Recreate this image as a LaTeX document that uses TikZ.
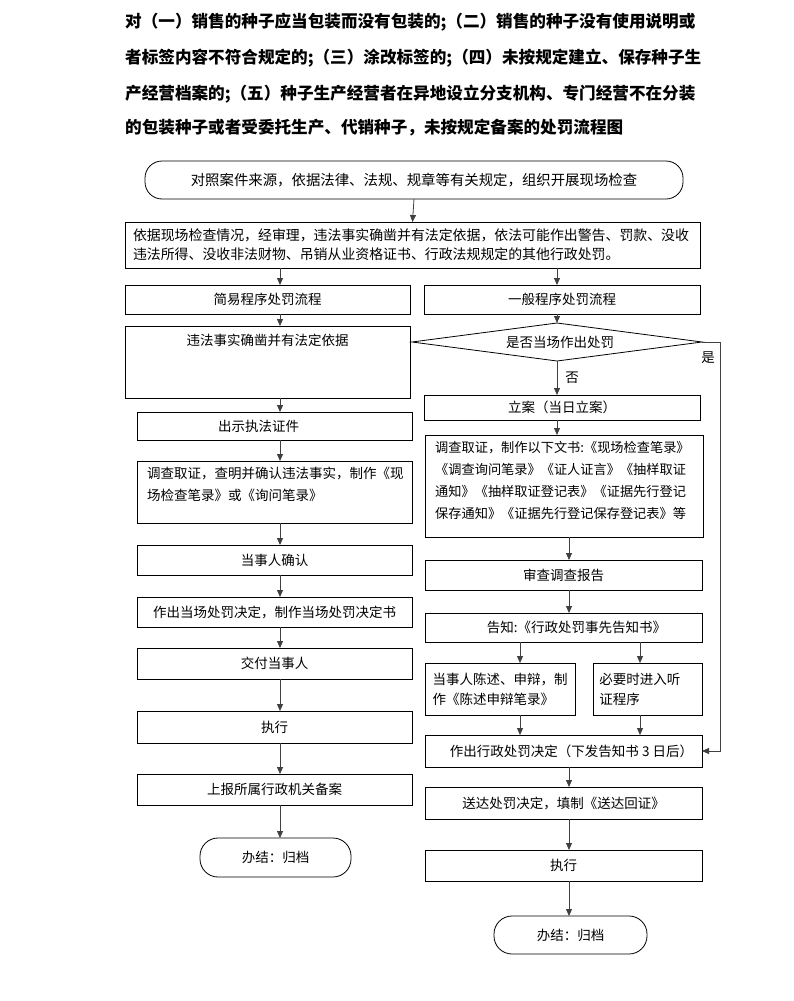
\documentclass[tikz,border=0pt]{standalone}
\usepackage{fontspec}
\setmainfont{Noto Sans CJK SC}
\usetikzlibrary{shapes.geometric,arrows.meta}
\newcommand\bxfont{\fontsize{13.5}{19}\selectfont}
\newcommand\smfont{\fontsize{13.2}{22}\selectfont}
\newcommand\ttlfont{\fontsize{16.6}{20}\selectfont\bfseries}
\begin{document}
\begin{tikzpicture}[x=1pt,y=-1pt,
  box/.style={draw=black, line width=0.8pt, inner sep=0pt, outer sep=0pt, font=\bxfont, align=center},
  rbox/.style={box, rounded corners=17pt},
  arr/.style={-{Triangle[length=7pt,width=6pt]}, line width=0.8pt, draw=black!75},
  ttl/.style={anchor=west, inner sep=0pt, font=\ttlfont},
  txt/.style={inner sep=0pt, font=\bxfont}
]
\useasboundingbox (0,0) rectangle (793,1001);
\fill[white] (0,0) rectangle (793,1001);

% title
\node[ttl] (t1) at (125,22) {对（一）销售的种子应当包装而没有包装的;（二）销售的种子没有使用说明或};
\node[ttl] (t2) at (125,58) {者标签内容不符合规定的;（三）涂改标签的;（四）未按规定建立、保存种子生};
\node[ttl] (t3) at (125,94) {产经营档案的;（五）种子生产经营者在异地设立分支机构、专门经营不在分装};
\node[ttl] (t4) at (125,128) {的包装种子或者受委托生产、代销种子，未按规定备案的处罚流程图};

% column coordinates
\coordinate (L) at (280,0);
\coordinate (R) at (557,0);
\coordinate (R2) at (569,0);
\coordinate (SL) at (520,0);
\coordinate (SR) at (640,0);

% top
\node[rbox, minimum width=538pt, minimum height=38pt, font=\fontsize{14.4}{18}\selectfont] (top) at (414,180) {对照案件来源，依据法律、法规、规章等有关规定，组织开展现场检查};
\node[box, minimum width=575pt, minimum height=46pt, align=left, text width=559pt, font=\fontsize{13.9}{19}\selectfont] (b2) at (412.5,245) {依据现场检查情况，经审理，违法事实确凿并有法定依据，依法可能作出警告、罚款、没收\\违法所得、没收非法财物、吊销从业资格证书、行政法规规定的其他行政处罚。};

% left column
\node[box, minimum width=285pt, minimum height=29pt] (simple) at (267.5,299.5) {简易程序处罚流程};
\node[box, minimum width=285pt, minimum height=72pt,
  label={[txt, anchor=north, yshift=-8pt]north:违法事实确凿并有法定依据}] (fact) at (267.5,362) {};
\node[box, minimum width=275pt, minimum height=28pt] (show) at (274.5,426) {\hspace*{-32pt}出示执法证件};
\node[box, minimum width=275pt, minimum height=62pt,
  label={[txt, anchor=north west, xshift=10pt, yshift=-6pt, align=left, font=\fontsize{13.5}{22}\selectfont]north west:调查取证，查明并确认违法事实，制作《现\\场检查笔录》或《询问笔录》}] (inv1) at (274.5,492) {};
\node[box, minimum width=275pt, minimum height=30pt] (confirm) at (274.5,560) {当事人确认};
\node[box, minimum width=275pt, minimum height=30pt] (decide1) at (274.5,612) {作出当场处罚决定，制作当场处罚决定书};
\node[box, minimum width=275pt, minimum height=31pt] (deliver1) at (274.5,663.5) {交付当事人};
\node[box, minimum width=275pt, minimum height=32pt] (exec1) at (274.5,727) {执行};
\node[box, minimum width=275pt, minimum height=31pt] (report) at (274.5,789.5) {上报所属行政机关备案};
\node[rbox, minimum width=151pt, minimum height=39pt, rounded corners=18pt] (end1) at (275.5,857.5) {办结：归档};

% right column
\node[box, minimum width=276pt, minimum height=29pt] (general) at (562,299.5) {一般程序处罚流程};
\node[diamond, draw=black, line width=0.8pt, aspect=7.6, inner sep=0pt, outer sep=0pt,
  minimum width=290pt, minimum height=38pt, font=\bxfont] (dia) at (557,342) {\hspace*{6pt}是否当场作出处罚};
\node[box, minimum width=276pt, minimum height=25pt] (lian) at (562,407.5) {立案（当日立案）};
\node[box, minimum width=278pt, minimum height=102pt,
  label={[txt, anchor=north west, xshift=10pt, yshift=-6pt, align=left, font=\smfont]north west:调查取证，制作以下文书:《现场检查笔录》\\《调查询问笔录》《证人证言》《抽样取证\\通知》《抽样取证登记表》《证据先行登记\\保存通知》《证据先行登记保存登记表》等}] (inv2) at (564,486) {};
\node[box, minimum width=277pt, minimum height=30pt] (review) at (563.5,575) {审查调查报告};
\node[box, minimum width=277pt, minimum height=29pt] (notify) at (563.5,627.5) {\hspace*{26pt}告知:《行政处罚事先告知书》};
\node[box, minimum width=150pt, minimum height=52pt, align=left, font=\fontsize{13.5}{20}\selectfont] (state) at (500,689) {当事人陈述、申辩，制\\作《陈述申辩笔录》};
\node[box, minimum width=109pt, minimum height=52pt, align=left, font=\fontsize{13.5}{20}\selectfont] (hearing) at (647.5,689) {\hspace*{-8pt}必要时进入听\\\hspace*{-8pt}证程序\hspace*{48pt}};
\node[box, minimum width=277pt, minimum height=32pt] (decide2) at (563.5,751) {\hspace*{16pt}作出行政处罚决定（下发告知书 3 日后）};
\node[box, minimum width=277pt, minimum height=32pt] (serve) at (563.5,803) {送达处罚决定，填制《送达回证》};
\node[box, minimum width=277pt, minimum height=31pt] (exec2) at (563.5,865.5) {执行};
\node[rbox, minimum width=153pt, minimum height=38pt, rounded corners=18pt] (end2) at (570.5,935) {办结：归档};

% connectors
\draw[arr] (top.south) -- (b2.north);
\draw[arr] (b2.south -| L) -- (simple.north -| L);
\draw[arr] (b2.south -| R) -- (general.north -| R);
\draw[arr] (simple.south -| L) -- (fact.north -| L);
\draw[arr] (fact.south -| L) -- (show.north -| L);
\draw[arr] (show.south -| L) -- (inv1.north -| L);
\draw[arr] (inv1.south -| L) -- (confirm.north -| L);
\draw[arr] (confirm.south -| L) -- (decide1.north -| L);
\draw[arr] (decide1.south -| L) -- (deliver1.north -| L);
\draw[arr] (deliver1.south -| L) -- (exec1.north -| L);
\draw[arr] (exec1.south -| L) -- (report.north -| L);
\draw[arr] (report.south -| L) -- (end1.north -| L);

\draw[arr] (general.south -| R) -- (dia.north);
\draw[arr] (dia.south) -- (lian.north -| R) node[txt, pos=0.5, right=8pt] (no) {否};
\coordinate (yesturn) at (720,342);
\draw[arr] (dia.east) -- (yesturn) |- (decide2.east);
\node[txt] (yes) at (708,358) {是};
\draw[arr] (lian.south -| R) -- (inv2.north -| R);
\draw[arr] (inv2.south -| R2) -- (review.north -| R2);
\draw[arr] (review.south -| R2) -- (notify.north -| R2);
\draw[arr] (notify.south -| SL) -- (state.north -| SL);
\draw[arr] (notify.south -| SR) -- (hearing.north -| SR);
\draw[arr] (state.south -| SL) -- (decide2.north -| SL);
\draw[arr] (hearing.south -| SR) -- (decide2.north -| SR);
\draw[arr] (decide2.south -| R2) -- (serve.north -| R2);
\draw[arr] (serve.south -| R2) -- (exec2.north -| R2);
\draw[arr] (exec2.south -| R2) -- (end2.north -| R2);
\end{tikzpicture}
\end{document}
